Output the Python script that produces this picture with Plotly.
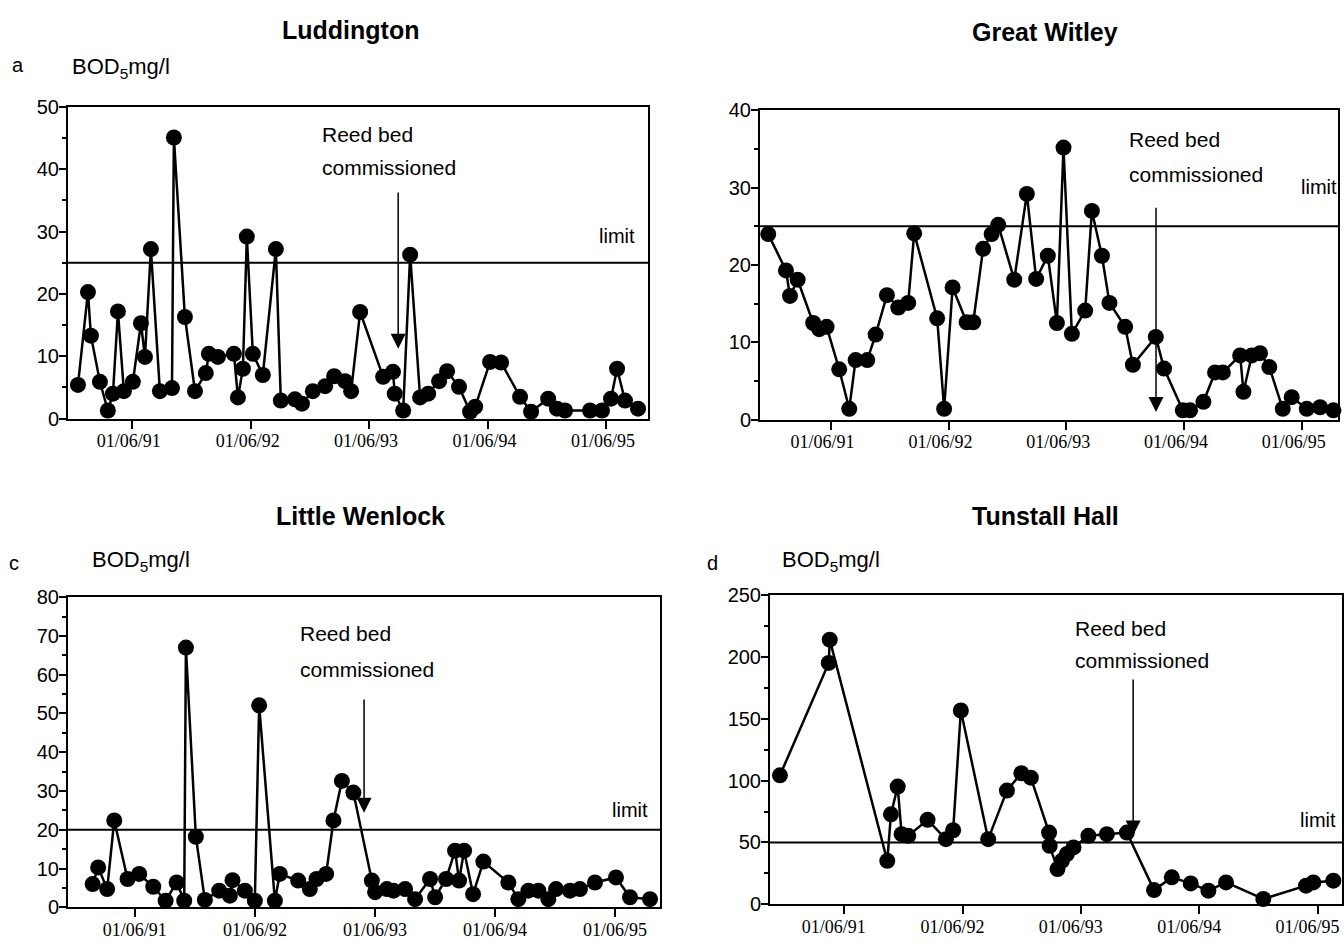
import plotly.graph_objects as go
import pandas as pd

# ---------------- data (sample times as decimal years, BOD5 mg/l) ----------------
lud_t = [1990.958, 1991.043, 1991.068, 1991.144, 1991.211, 1991.254, 1991.296, 1991.346,
         1991.422, 1991.490, 1991.524, 1991.574, 1991.650, 1991.752, 1991.768, 1991.861,
         1991.946, 1992.038, 1992.064, 1992.140, 1992.275, 1992.309, 1992.351, 1992.384,
         1992.435, 1992.519, 1992.629, 1992.671, 1992.790, 1992.849, 1992.941, 1993.043,
         1993.119, 1993.211, 1993.262, 1993.338, 1993.532, 1993.615, 1993.630, 1993.701,
         1993.760, 1993.844, 1993.912, 1994.005, 1994.072, 1994.173, 1994.266, 1994.309,
         1994.435, 1994.528, 1994.688, 1994.781, 1994.925, 1995.000, 1995.068, 1995.279,
         1995.380, 1995.456, 1995.507, 1995.574, 1995.684]
lud_v = [5.4, 20.3, 13.3, 5.9, 1.3, 4.0, 17.2, 4.4,
         5.9, 15.3, 9.9, 27.2, 4.4, 4.9, 45.1, 16.3,
         4.4, 7.3, 10.4, 9.9, 10.4, 3.4, 8.0, 29.2,
         10.4, 7.0, 27.2, 2.9, 3.1, 2.4, 4.4, 5.2,
         6.8, 6.0, 4.4, 17.1, 6.7, 7.5, 4.0, 1.3,
         26.3, 3.4, 4.0, 6.0, 7.6, 5.1, 1.1, 1.9,
         9.1, 9.0, 3.5, 1.1, 3.2, 1.6, 1.3, 1.3,
         1.3, 3.2, 8.0, 2.9, 1.6]

gw_t = [1990.884, 1991.035, 1991.069, 1991.134, 1991.266, 1991.317, 1991.380, 1991.487,
        1991.572, 1991.626, 1991.725, 1991.796, 1991.892, 1991.988, 1992.073, 1992.124,
        1992.319, 1992.378, 1992.450, 1992.569, 1992.625, 1992.709, 1992.781, 1992.837,
        1992.973, 1993.078, 1993.157, 1993.256, 1993.333, 1993.389, 1993.460, 1993.573,
        1993.630, 1993.715, 1993.779, 1993.912, 1993.978, 1994.173, 1994.243, 1994.402,
        1994.464, 1994.577, 1994.676, 1994.742, 1994.889, 1994.917, 1994.988, 1995.058,
        1995.137, 1995.251, 1995.327, 1995.455, 1995.568, 1995.681]
gw_v = [24.0, 19.3, 16.0, 18.1, 12.5, 11.7, 12.0, 6.5,
        1.4, 7.7, 7.7, 11.0, 16.1, 14.5, 15.1, 24.1,
        13.1, 1.4, 17.1, 12.6, 12.6, 22.1, 24.0, 25.2,
        18.1, 29.2, 18.2, 21.2, 12.5, 35.2, 11.1, 14.1,
        27.0, 21.2, 15.1, 12.0, 7.1, 10.7, 6.6, 1.2,
        1.2, 2.3, 6.1, 6.1, 8.3, 3.6, 8.3, 8.6,
        6.8, 1.4, 2.9, 1.4, 1.6, 1.2]

lw_t = [1991.062, 1991.108, 1991.183, 1991.242, 1991.353, 1991.450, 1991.567, 1991.670,
        1991.762, 1991.825, 1991.839, 1991.922, 1991.997, 1992.117, 1992.206, 1992.228,
        1992.331, 1992.414, 1992.450, 1992.581, 1992.622, 1992.775, 1992.872, 1992.928,
        1993.006, 1993.067, 1993.137, 1993.233, 1993.387, 1993.414, 1993.512, 1993.567,
        1993.664, 1993.747, 1993.872, 1993.914, 1994.006, 1994.081, 1994.114, 1994.156,
        1994.231, 1994.317, 1994.525, 1994.608, 1994.692, 1994.775, 1994.858, 1994.922,
        1995.039, 1995.122, 1995.247, 1995.422, 1995.539, 1995.706]
lw_v = [6.0, 10.3, 4.7, 22.4, 7.3, 8.6, 5.3, 1.7,
        6.4, 1.7, 67.0, 18.2, 1.9, 4.3, 3.0, 7.0,
        4.3, 1.7, 52.1, 1.7, 8.6, 6.9, 4.7, 7.3,
        8.6, 22.4, 32.6, 29.6, 6.9, 3.9, 4.7, 4.3,
        4.7, 2.1, 7.3, 2.6, 7.3, 14.6, 6.9, 14.6,
        3.4, 11.8, 6.4, 2.1, 4.3, 4.3, 2.1, 4.7,
        4.3, 4.7, 6.4, 7.7, 2.6, 2.1]

th_t = [1990.873, 1991.286, 1991.294, 1991.780, 1991.811, 1991.868, 1991.901, 1991.957,
        1992.121, 1992.276, 1992.337, 1992.402, 1992.633, 1992.791, 1992.913, 1992.993,
        1993.145, 1993.150, 1993.216, 1993.253, 1993.295, 1993.351, 1993.477, 1993.633,
        1993.802, 1994.032, 1994.182, 1994.342, 1994.491, 1994.640, 1994.955, 1995.316,
        1995.378, 1995.547]
th_v = [104.3, 195.2, 214.0, 35.2, 72.8, 95.2, 56.7, 55.4,
        68.3, 52.7, 59.9, 156.7, 52.7, 92.0, 106.0, 102.4,
        58.0, 47.3, 28.5, 35.2, 40.6, 46.0, 55.4, 56.7,
        58.0, 11.5, 21.8, 16.9, 11.0, 17.7, 4.3, 15.1,
        17.7, 19.1]

titles = ["Luddington", "Great Witley", "Little Wenlock", "Tunstall Hall"]
panel_letters = ["a", "", "c", "d"]
limits = [25, 25, 20, 50]
y_max = [50, 40, 80, 250]
y_dtick = [10, 10, 10, 50]
commission_t = [1993.659, 1994.175, 1993.322, 1993.855]
tick_dates = ["1991-06-01", "1992-06-01", "1993-06-01", "1994-06-01", "1995-06-01"]
tick_text = ["01/06/91", "01/06/92", "01/06/93", "01/06/94", "01/06/95"]


def to_date(t):
    y = int(t)
    return pd.Timestamp(y, 1, 1) + pd.Timedelta(days=(t - y) * 365.25)


series = [(lud_t, lud_v), (gw_t, gw_v), (lw_t, lw_v), (th_t, th_v)]

# ---------------- layout geometry ----------------
W, H = 1344, 940


def vy(y_px):
    # vertical page position (px from top) -> paper fraction, compensating page offset
    return 1 - ((y_px - 11.3) / 0.976) / H


boxes = [  # left, right, top, bottom in px
    (68, 648, 107.5, 420),
    (760, 1338, 111, 421),
    (68, 660, 599, 910),
    (770, 1342, 597, 907),
]
x_ranges = [(1990.874, 1995.768), (1990.814, 1995.720), (1990.856, 1995.789), (1990.789, 1995.620)]
x_label_shift = [-3, -8, 0, -10]

SANS = "Liberation Sans, Arial, sans-serif"
SERIF = "Liberation Serif, Times New Roman, serif"

fig = go.Figure()
layout = dict(width=W, height=H, margin=dict(l=0, r=0, t=0, b=0),
              paper_bgcolor="white", plot_bgcolor="white", showlegend=False)
annotations = []
shapes = []

for i, ((ts, vs), box) in enumerate(zip(series, boxes)):
    xn = "x" if i == 0 else f"x{i+1}"
    yn = "y" if i == 0 else f"y{i+1}"
    xk = "xaxis" if i == 0 else f"xaxis{i+1}"
    yk = "yaxis" if i == 0 else f"yaxis{i+1}"
    fig.add_trace(go.Scatter(
        x=[to_date(t) for t in ts], y=vs, mode="lines+markers",
        line=dict(color="black", width=2.5),
        marker=dict(color="black", size=16),
        cliponaxis=False, xaxis=xn, yaxis=yn))
    l, r, t, b = box
    layout[xk] = dict(
        domain=[l / W, r / W], anchor=yn,
        type="date", range=[to_date(x_ranges[i][0]), to_date(x_ranges[i][1])],
        tickvals=tick_dates, ticktext=tick_text, ticklabelshift=x_label_shift[i],
        ticklabelstandoff=-3,
        ticks="outside", ticklen=8, tickwidth=2, tickcolor="black",
        tickfont=dict(family=SERIF, size=18, color="black"),
        showline=True, linewidth=2, linecolor="black", mirror=True,
        showgrid=False, zeroline=False)
    layout[yk] = dict(
        domain=[vy(b), vy(t)], anchor=xn,
        range=[0, y_max[i]], dtick=y_dtick[i],
        ticks="outside", ticklen=7, tickwidth=2, tickcolor="black",
        ticklabelstandoff=-4,
        minor=dict(dtick=y_dtick[i] / 2, ticks="outside", ticklen=4, tickwidth=1.5, tickcolor="black"),
        tickfont=dict(family=SANS, size=20, color="black"),
        showline=True, linewidth=2, linecolor="black", mirror=True,
        showgrid=False, zeroline=False)

    # limit line
    shapes.append(dict(type="line", xref=f"{xn} domain", yref=yn, x0=0, x1=1,
                       y0=limits[i], y1=limits[i], line=dict(color="black", width=2)))

    # title
    cx = [350, 1045, 360, 1045][i]
    cy = [30, 32, 518, 518][i]
    annotations.append(dict(text=f"<b>{titles[i]}</b>", xref="paper", yref="paper",
                            x=cx / W, y=vy(cy), xanchor="center", yanchor="middle",
                            showarrow=False, font=dict(family=SANS, size=25, color="black")))

# reed bed annotations (two text lines + arrow), "limit" labels
text_x = [1993.000, 1993.929, 1992.772, 1993.348]
line1_y = [45.6, 36.3, 70.7, 223.4]
line2_y = [40.3, 31.7, 61.4, 196.8]
arrow_tail = [36.5, 27.6, 54.0, 183.0]
arrow_tip = [11.2, 1.0, 24.4, 55.6]
limit_pos = [(1995.676, 29.3, "right"), (1995.390, 30.1, "left"), (1995.706, 25.2, "right"), (1995.586, 68.5, "right")]

for i in range(4):
    xn = "x" if i == 0 else f"x{i+1}"
    yn = "y" if i == 0 else f"y{i+1}"
    for txt, yy in (("Reed bed", line1_y[i]), ("commissioned", line2_y[i])):
        annotations.append(dict(text=txt, xref=xn, yref=yn,
                                x=to_date(text_x[i]), y=yy,
                                xanchor="left", yanchor="middle", align="left", showarrow=False,
                                font=dict(family=SANS, size=21, color="black")))
    annotations.append(dict(text="", xref=xn, yref=yn, axref=xn, ayref=yn,
                            x=to_date(commission_t[i]), y=arrow_tip[i],
                            ax=to_date(commission_t[i]), ay=arrow_tail[i],
                            showarrow=True, arrowhead=2, arrowsize=2, arrowwidth=1.5,
                            arrowcolor="black"))
    lt, lv, anc = limit_pos[i]
    annotations.append(dict(text="limit", xref=xn, yref=yn, x=to_date(lt), y=lv,
                            xanchor=anc, yanchor="middle", showarrow=False,
                            font=dict(family=SANS, size=20, color="black")))

# panel letters and y-axis units
for letter, (lx, ly), (ux, uy) in zip(panel_letters,
                                      [(18, 65), (0, 0), (14, 565), (712, 565)],
                                      [(70, 68), (0, 0), (90, 563), (780, 563)]):
    if not letter:
        continue
    annotations.append(dict(text=letter, xref="paper", yref="paper", x=lx / W, y=vy(ly),
                            xanchor="center", yanchor="middle", showarrow=False,
                            font=dict(family=SANS, size=20, color="black")))
    annotations.append(dict(text="BOD<sub>5</sub>mg/l", xref="paper", yref="paper",
                            x=ux / W, y=vy(uy), xanchor="left", yanchor="middle",
                            showarrow=False,
                            font=dict(family=SANS, size=22, color="black")))

layout["annotations"] = annotations
layout["shapes"] = shapes
fig.update_layout(**layout)
fig.write_html("out.html")
